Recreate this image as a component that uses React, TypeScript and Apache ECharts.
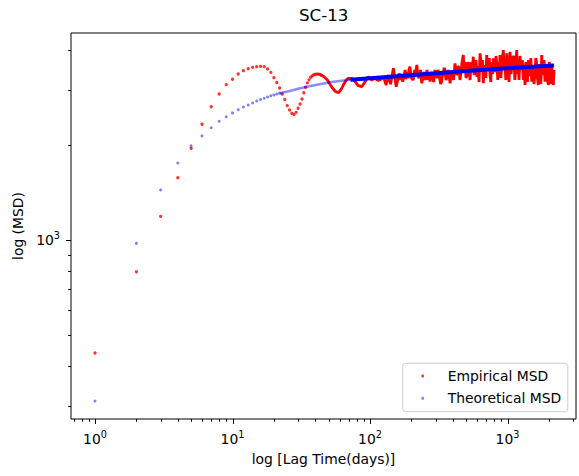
import React, { useEffect, useRef } from "react";
import * as echarts from "echarts";

// ---- data ----
// Empirical MSD, individually visible points (lag in days, MSD)
const empLagsDots = [1, 2, 3, 4, 5, 6, 7, 8, 9, 10, 11, 12, 13, 14, 15, 16, 17, 18, 19, 20, 21, 22, 23, 24, 25, 26, 27, 28, 29, 30, 31, 32, 33, 34, 35, 36, 37, 38, 39, 40, 41, 42, 43, 44];
const empValsDots = [440, 795, 1191, 1578, 1955, 2329, 2647, 2904, 3108, 3233, 3360, 3441, 3491, 3527, 3543, 3550, 3545, 3484, 3400, 3270, 3158, 3034, 2904, 2790, 2667, 2585, 2523, 2500, 2540, 2617, 2700, 2800, 2930, 3050, 3150, 3220, 3280, 3315, 3340, 3352, 3358, 3358, 3352, 3336];
// Empirical MSD, dense part (points overlap into a noisy trace)
const empLagsDense = [
  44, 46, 49, 51, 53, 56, 59, 62, 64, 66, 69, 74, 78, 82, 87, 92, 97, 103, 109, 114, 118, 125, 131, 136, 141, 148, 155,
  163, 167, 170, 173, 177, 180, 183, 186, 190, 192, 195, 200, 206, 211, 214, 219, 223, 227, 233, 238, 243, 247, 251, 255,
  260, 264, 269, 273, 278, 282, 290, 297, 302, 307, 312, 318, 326, 332, 337, 340, 345, 351, 357, 363, 372, 382, 388, 395,
  405, 415, 422, 429, 437, 444, 451, 459, 467, 477, 483, 491, 499, 508, 516, 525, 534, 543, 552, 564, 571, 580, 590, 600,
  610, 621, 631, 642, 647, 658, 667, 675, 686, 695, 706, 716, 728, 737, 746, 756, 765, 777, 788, 800, 811, 825, 839, 850,
  860, 872, 882, 894, 905, 919, 932, 947, 959, 972, 987, 998, 1009, 1026, 1043, 1060, 1078, 1097, 1115, 1130, 1144, 1153,
  1167, 1181, 1193, 1213, 1233, 1250, 1264, 1283, 1303, 1323, 1341, 1359, 1375, 1396, 1417, 1439, 1458, 1477, 1500, 1517,
  1533, 1559, 1585, 1606, 1625, 1650, 1675, 1701, 1723, 1747, 1773, 1794, 1812, 1843, 1874, 1899, 1922, 1951, 1981, 2011,
  2037, 2065, 2096, 2125, 2154, 2179,
];
const empValsDense = [
  3336, 3300, 3216, 3123, 3044, 2957, 2932, 3012, 3101, 3176, 3256, 3256, 3176, 3085, 3063, 3176, 3295, 3216, 3256, 3205, 3216, 3295, 3101, 3336, 3117, 3502, 3063,
  3377, 3216, 3360, 3176, 3336, 3459, 3239, 3409, 3256, 3459, 3543, 3263, 3216, 3459, 3360, 3587, 3311, 3263, 3459, 3140, 3311, 3409, 3216, 3311,
  3459, 3216, 3360, 3176, 3409, 3360, 3169, 3459, 3311, 3263, 3459, 3360, 3123, 3176, 3409, 3311, 3510, 3459, 3216, 3263, 3459, 3140, 3336, 3409,
  3216, 3632, 3409, 3336, 3561, 3510, 3216, 3409, 3667, 3858, 3409, 3667, 3263, 3336, 3667, 3459, 3216, 3667, 3409, 3811, 3336, 3510, 3721, 3287,
  3561, 3169, 3906, 3667, 3459, 3721, 3140, 3459, 3587, 3263, 3858, 3510, 3459, 3775, 3336, 3169, 3667, 3360, 3767, 3561, 3409, 3831, 3535, 3216,
  3667, 3409, 3858, 3263, 3510, 3721, 4001, 3459, 3587, 3216, 3906, 3667, 3459, 3169, 3952, 3360, 3561, 3831, 3775, 3216, 3409, 3721,
  4001, 3360, 3667, 3216, 3831, 3561, 3459, 3721, 3216, 3510, 3101, 3667, 3459, 3169, 3721, 3311, 3409, 3775, 3176, 3459,
  3561, 3123, 3409, 3775, 3667, 3263, 3101, 3613, 3459, 3123, 3858, 3409, 3336, 3721, 3176, 3459, 3613, 3216, 3101, 3667,
  3510, 3123, 3587, 3216, 3101, 3459,
];
// Theoretical MSD, individually visible points
const theoLagsDots = [1, 2, 3, 4, 5, 6, 7, 8, 9, 10, 11, 12, 13, 14, 15, 16, 17, 18, 19, 20, 21, 22];
const theoValsDots = [310, 978, 1443, 1757, 1990, 2140, 2270, 2380, 2460, 2530, 2590, 2640, 2680, 2720, 2760, 2790, 2815, 2840, 2865, 2885, 2905, 2920];
// Theoretical MSD, semi-dense part
const theoLagsMid = [22, 26, 31, 37, 43, 51, 60, 72, 85];
const theoValsMid = [2920, 2968, 3027, 3078, 3117, 3162, 3192, 3222, 3239];
// Theoretical MSD, dense part
const theoLagsDense = [72, 85, 100, 231, 534, 995, 2150, 2179];
const theoValsDense = [3222, 3239, 3256, 3345, 3439, 3505, 3572, 3573];

// axis ticks
const xMajorTicks = [1, 10, 100, 1000];
const xMinorTicks = [0.7, 0.8, 0.9, 2, 3, 4, 5, 6, 7, 8, 9, 20, 30, 40, 50, 60, 70, 80, 90, 200, 300, 400, 500, 600, 700, 800, 900, 2000, 3000];
const yMajorTicks = [1000];
const yMinorTicks = [300, 400, 500, 600, 700, 800, 900, 2000, 3000, 4000];

const X_MIN = 0.669;
const X_MAX = 3148;
const Y_MIN = 272;
const Y_MAX = 4529;

const FONT = "DejaVu Sans";

const zip = (a: number[], b: number[]) => a.map((v, i) => [v, b[i]]);

function powerLabel(v: number): string {
  const e = Math.log10(v);
  const r = Math.round(e);
  if (Math.abs(e - r) > 1e-6) return "";
  return "{b|10}{s|" + r + "}";
}

const labelRich = {
  b: { fontSize: 13.9, fontFamily: FONT, color: "#000" },
  s: { fontSize: 9.7, fontFamily: FONT, color: "#000", padding: [0, 0, 9, 0] },
};

function xTickSeries(ticks: number[], len: number) {
  return {
    type: "custom",
    silent: true,
    clip: false,
    data: ticks.map((t) => [t, 1000]),
    renderItem: (params: any, api: any) => {
      const cs = params.coordSys;
      const px = Math.round(api.coord([api.value(0), api.value(1)])[0]) + 0.5;
      const y0 = cs.y + cs.height;
      return {
        type: "line",
        shape: { x1: px, y1: y0, x2: px, y2: y0 + len },
        style: { stroke: "#000", lineWidth: 1 },
      };
    },
  };
}

function yTickSeries(ticks: number[], len: number) {
  return {
    type: "custom",
    silent: true,
    clip: false,
    data: ticks.map((t) => [1, t]),
    renderItem: (params: any, api: any) => {
      const cs = params.coordSys;
      const py = Math.round(api.coord([api.value(0), api.value(1)])[1]) + 0.5;
      const x0 = cs.x;
      return {
        type: "line",
        shape: { x1: x0, y1: py, x2: x0 - len, y2: py },
        style: { stroke: "#000", lineWidth: 1 },
      };
    },
  };
}

export default function App() {
  const ref = useRef<HTMLDivElement>(null);

  useEffect(() => {
    if (!ref.current) return;
    const chart = echarts.init(ref.current, undefined, { renderer: "svg" });
    chart.setOption({
      animation: false,
      backgroundColor: "#ffffff",
      title: {
        text: "SC-13",
        left: 299,
        top: 7,
        padding: 0,
        textStyle: { fontFamily: FONT, fontSize: 16.67, fontWeight: "normal", color: "#000" },
      },
      legend: {
        data: [
          { name: "Empirical MSD", icon: "circle" },
          { name: "Theoretical MSD", icon: "circle" },
        ],
        orient: "vertical",
        left: 402.7,
        top: 363.3,
        itemWidth: 40,
        itemHeight: 3,
        itemGap: 6.3,
        padding: [4.7, 6.6, 5.4, 18.5],
        backgroundColor: "#ffffff",
        borderColor: "#cccccc",
        borderWidth: 1,
        borderRadius: 3,
        textStyle: { fontFamily: FONT, fontSize: 13.9, color: "#000", lineHeight: 16 },
      },
      grid: {
        left: 71,
        top: 33,
        width: 505,
        height: 386,
        show: true,
        borderColor: "#000",
        borderWidth: 1,
        backgroundColor: "transparent",
      },
      xAxis: {
        type: "log",
        logBase: 10,
        min: X_MIN,
        max: X_MAX,
        name: "log [Lag Time(days)]",
        nameLocation: "middle",
        nameGap: 33,
        nameTextStyle: { fontFamily: FONT, fontSize: 13.9, color: "#000" },
        axisLine: { show: false },
        axisTick: { show: false },
        splitLine: { show: false },
        axisLabel: {
          margin: 10,
          formatter: powerLabel,
          rich: labelRich,
          showMinLabel: false,
          showMaxLabel: false,
        },
      },
      yAxis: {
        type: "log",
        logBase: 10,
        min: Y_MIN,
        max: Y_MAX,
        name: "log (MSD)",
        nameLocation: "middle",
        nameGap: 38,
        nameTextStyle: { fontFamily: FONT, fontSize: 13.9, color: "#000" },
        axisLine: { show: false },
        axisTick: { show: false },
        splitLine: { show: false },
        axisLabel: {
          margin: 11,
          formatter: powerLabel,
          rich: labelRich,
          showMinLabel: false,
          showMaxLabel: false,
        },
      },
      series: [
        {
          name: "Empirical MSD",
          type: "scatter",
          symbol: "circle",
          symbolSize: 3.3,
          itemStyle: { color: "#ff0000" },
          data: zip(empLagsDots, empValsDots),
        },
        {
          name: "Empirical MSD",
          type: "line",
          symbol: "none",
          showSymbol: false,
          lineStyle: { color: "#ff0000", width: 2.8 },
          itemStyle: { color: "#ff0000" },
          data: zip(empLagsDense, empValsDense),
        },
        {
          name: "Theoretical MSD",
          type: "scatter",
          symbol: "circle",
          symbolSize: 3,
          itemStyle: { color: "#0000ff", opacity: 0.5 },
          data: zip(theoLagsDots, theoValsDots),
        },
        {
          name: "Theoretical MSD",
          type: "line",
          symbol: "none",
          showSymbol: false,
          lineStyle: { color: "#0000ff", width: 2.6, opacity: 0.45 },
          itemStyle: { color: "#0000ff" },
          data: zip(theoLagsMid, theoValsMid),
        },
        {
          name: "Theoretical MSD",
          type: "line",
          symbol: "none",
          showSymbol: false,
          lineStyle: { color: "#0000ff", width: 4 },
          itemStyle: { color: "#0000ff" },
          data: zip(theoLagsDense, theoValsDense),
        },
        xTickSeries(xMajorTicks, 4.9),
        xTickSeries(xMinorTicks, 2.8),
        yTickSeries(yMajorTicks, 4.9),
        yTickSeries(yMinorTicks, 2.8),
      ],
    });
    return () => chart.dispose();
  }, []);

  return (
    <div
      ref={ref}
      style={{ position: "fixed", left: 0, top: 0, width: 579, height: 476 }}
    />
  );
}
